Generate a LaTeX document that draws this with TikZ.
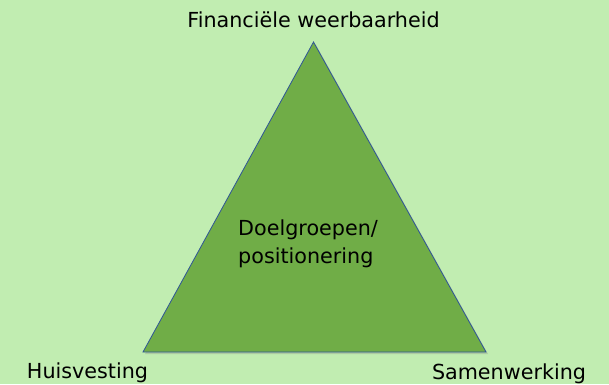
\documentclass[tikz,border=0pt]{standalone}
\usepackage{fontspec}
\setmainfont{DejaVu Sans}
\usetikzlibrary{shadows}
\definecolor{bggreen}{RGB}{193,237,177}
\definecolor{trigreen}{RGB}{112,173,71}
\definecolor{edgeblue}{RGB}{47,85,151}
\begin{document}
\begin{tikzpicture}[x=1pt,y=1pt]
    \tikzstyle{every node}=[inner sep=0pt,font=\fontsize{20.7}{24}\selectfont];
    \fill[bggreen] (0,0) rectangle (609,384);
    \useasboundingbox (0,0) rectangle (609,384);
    %corners of the triangle
    \coordinate (top) at (313.5,342);
    \coordinate (left) at (143,32);
    \coordinate (right) at (486,32);
    \draw[edgeblue,fill=trigreen,line width=0.8pt,line join=miter,
      drop shadow={opacity=0.3,shadow xshift=2pt,shadow yshift=-2pt}]
      (top) -- (left) -- (right) -- cycle;
    \node (fin) at (313.5,357) [anchor=base] {Financiële weerbaarheid};
    \node (huis) at (87.5,6) [anchor=base] {Huisvesting};
    \node (samen) at (509,5) [anchor=base] {Samenwerking};
    \node (doel) at (238,121) [anchor=base west,align=left,
      font=\fontsize{20.7}{27.5}\selectfont] {Doelgroepen/\\positionering};
  \end{tikzpicture}
\end{document}
